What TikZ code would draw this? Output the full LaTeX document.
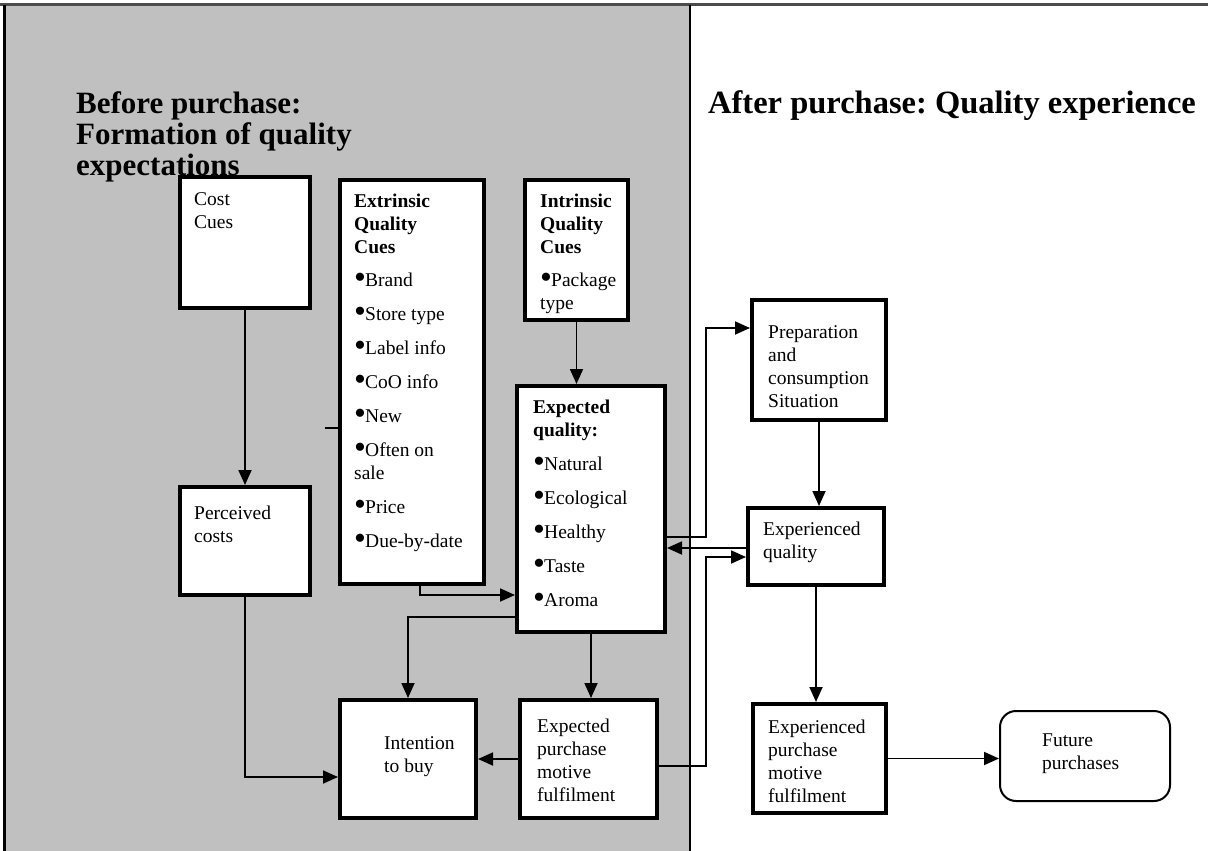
\documentclass[tikz,border=0pt]{standalone}
\usepackage{fontspec}
\setmainfont{Liberation Serif}
\usetikzlibrary{arrows.meta,calc}
\definecolor{panelgrey}{HTML}{C0C0C0}
\frenchspacing
\newcommand{\bodyfont}{\fontsize{19.5}{23}\selectfont}
\newcommand{\titlefont}{\fontsize{31}{31}\selectfont\bfseries}
\newcommand{\titlefontb}{\fontsize{32.5}{31}\selectfont\bfseries}
\newcommand{\bul}{\makebox[11pt][l]{\raisebox{-2pt}{\fontsize{34}{34}\selectfont •}}}
\newcommand{\fs}{\rule{0pt}{15pt}}
\newcommand{\ts}{\rule{0pt}{24pt}}
\begin{document}
\begin{tikzpicture}[x=1pt,y=-1pt,
  box/.style={draw, line width=4pt, fill=white, rectangle, inner sep=0pt, anchor=center},
  txt/.style={anchor=north west, inner sep=0pt, align=left, font=\bodyfont},
  title/.style={anchor=north west, inner sep=0pt, align=left, font=\titlefont},
  conn/.style={draw, line width=1.8pt},
  arr/.style={conn, -{Triangle[length=15pt,width=13pt]}}]
\useasboundingbox (0,0) rectangle (1208,851);
% frame
\fill[panelgrey] (5,5) rectangle (690,851);
\draw[line width=3pt, black!70] (0,5) -- (1208,5);
\draw[line width=3pt] (4,5) -- (4,851);
\draw[line width=2pt] (690,5) -- (690,851);
% titles
\node[title] (t1) at (76,89) {\ts Before purchase:\\Formation of quality\\expectations};
\node[title, font=\titlefontb] (t2) at (708,89) {\ts After purchase: Quality experience};
% boxes
\node[box, minimum width=130pt, minimum height=131pt] (cost) at (245,242.5) {};
\node[box, minimum width=144pt, minimum height=404pt] (ext) at (412,382) {};
\node[box, minimum width=103pt, minimum height=140pt] (intr) at (576.5,250) {};
\node[box, minimum width=148pt, minimum height=246pt] (expq) at (591,509) {};
\node[box, minimum width=130pt, minimum height=108pt] (perc) at (245,541) {};
\node[box, minimum width=136pt, minimum height=118pt] (intent) at (408,759) {};
\node[box, minimum width=137pt, minimum height=118pt] (exppm) at (588.5,759) {};
\node[box, minimum width=134pt, minimum height=120pt] (prep) at (819,360) {};
\node[box, minimum width=136pt, minimum height=77pt] (expd) at (816,546.5) {};
\node[box, minimum width=133pt, minimum height=109pt] (expdpm) at (819.5,758.5) {};
\node[box, line width=2pt, rounded corners=16pt, minimum width=170pt, minimum height=90pt] (future) at (1085,756) {};
% texts
\node[txt] (costT) at (194,190) {\fs Cost\\Cues};
\node[txt] (extT) at (354,192) {\fs\textbf{Extrinsic}\\\textbf{Quality}\\\textbf{Cues}\\[10pt]
  \bul Brand\\[11pt]\bul Store type\\[11pt]\bul Label info\\[11pt]\bul CoO info\\[11pt]
  \bul New\\[11pt]\bul Often on\\sale\\[11pt]\bul Price\\[11pt]\bul Due-by-date};
\node[txt] (intrT) at (540,192) {\fs\textbf{Intrinsic}\\\textbf{Quality}\\\textbf{Cues}\\[10pt]\bul Package\\type};
\node[txt] (expqT) at (533,398) {\fs\textbf{Expected}\\\textbf{quality:}\\[11pt]
  \bul Natural\\[11pt]\bul Ecological\\[11pt]\bul Healthy\\[11pt]\bul Taste\\[11pt]\bul Aroma};
\node[txt] (percT) at (194,504) {\fs Perceived\\costs};
\node[txt] (intentT) at (384,734) {\fs Intention\\to buy};
\node[txt] (exppmT) at (537,717) {\fs Expected\\purchase\\motive\\fulfilment};
\node[txt] (prepT) at (768,323) {\fs Preparation\\and\\consumption\\Situation};
\node[txt] (expdT) at (763,520) {\fs Experienced\\quality};
\node[txt] (expdpmT) at (768,718) {\fs Experienced\\purchase\\motive\\fulfilment};
\node[txt] (futureT) at (1042,731) {\fs Future\\purchases};
% connectors
\coordinate (stub) at (325,428);
\draw[conn] (stub) -- (stub -| ext.west);
\draw[arr] (cost) -- (perc);
\draw[arr] (perc.south) |- (intent.west |- 0,777);
\draw[arr] (ext.south -| 420,0) |- (expq.west |- 0,595);
\draw[arr] (intr.south) -- (intr.south |- expq.north);
\draw[arr] (expq.west |- 0,617) -| (intent.north);
\draw[arr] (expq.south) -- (expq.south |- exppm.north);
\draw[arr] (exppm.west) -- (intent.east);
\draw[arr] (exppm.east |- 0,766) -| (706,557) -- (expd.west |- 0,557);
\draw[arr] (expq.east |- 0,537) -| (706,328) -- (prep.west |- 0,328);
\draw[arr] (expd.west |- 0,548) -- (expq.east |- 0,548);
\draw[arr] (prep.south) -- (prep.south |- expd.north);
\draw[arr] (expd.south) -- (expd.south |- expdpm.north);
\draw[arr] (expdpm.east) -- (expdpm.east -| future.west);
\end{tikzpicture}
\end{document}
